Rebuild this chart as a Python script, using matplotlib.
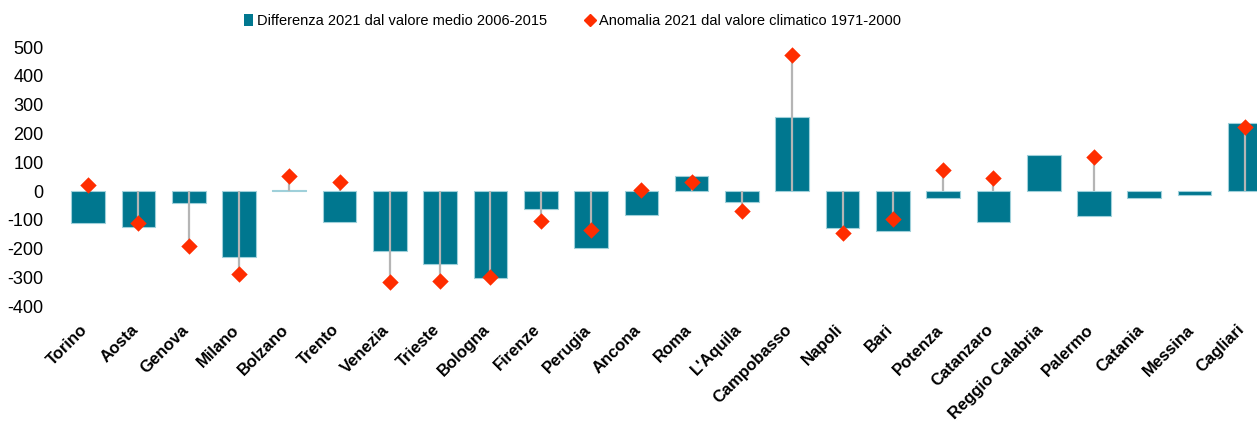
import numpy as np
import matplotlib
matplotlib.use("Agg")
import matplotlib.pyplot as plt
import matplotlib.transforms as mtransforms
from matplotlib.lines import Line2D
from matplotlib.patches import Patch

cities = ["Torino", "Aosta", "Genova", "Milano", "Bolzano", "Trento", "Venezia",
          "Trieste", "Bologna", "Firenze", "Perugia", "Ancona", "Roma", "L'Aquila",
          "Campobasso", "Napoli", "Bari", "Potenza", "Catanzaro", "Reggio Calabria",
          "Palermo", "Catania", "Messina", "Cagliari"]

# differenza 2021 dal valore medio 2006-2015
diff_2006_2015 = [-110, -125, -43, -230, 2, -108, -209,
                  -254, -303, -61, -197, -83, 53, -39,
                  256, -130, -139, -23, -109, 125,
                  -86, -23, -14, 236]

# anomalia 2021 dal valore climatico 1971-2000 (None = nessun dato)
anom_1971_2000 = [21, -110, -191, -289, 52, 31, -315,
                  -313, -299, -105, -135, 2, 32, -69,
                  471, -147, -97, 73, 46, None,
                  118, None, None, 222]

yticks = [-400, -300, -200, -100, 0, 100, 200, 300, 400, 500]

bar_color = "#00778f"
dot_color = "#ff2d00"

plt.rcParams['font.family'] = ['Liberation Sans Narrow', 'Liberation Sans', 'DejaVu Sans']

fig = plt.figure(figsize=(12.57, 4.26), dpi=100)
ax = fig.add_axes([63 / 1257, 0.2474, 1207 / 1257, 0.676])

x = np.arange(len(cities))
ax.bar(x, diff_2006_2015, width=0.67, color=bar_color,
       edgecolor="#9fd0da", linewidth=0.8, zorder=2)

anom = np.array([np.nan if v is None else v for v in anom_1971_2000], dtype=float)
ok = ~np.isnan(anom)
ax.vlines(x[ok], 0, anom[ok], color="#b5b5b5", linewidth=1.6, zorder=3)
ax.scatter(x[ok], anom[ok], marker="D", s=70, color=dot_color, zorder=4, linewidths=0)

ax.set_xlim(-0.5, len(cities) - 0.5)
ax.set_ylim(-450, 550)
ax.set_yticks(yticks)
ax.set_yticklabels([str(v) for v in yticks], fontsize=13)
ax.set_xticks(x)
ax.set_xticklabels(cities, rotation=45, ha="right", va="top",
                   rotation_mode="anchor", fontsize=12, fontweight="bold")
ax.tick_params(axis="y", length=0, pad=14)
ax.tick_params(axis="x", length=0, pad=1)
shift = mtransforms.ScaledTranslation(-8 / 100, 0, fig.dpi_scale_trans)
for lab in ax.get_xticklabels():
    lab.set_transform(lab.get_transform() + shift)
for s in ax.spines.values():
    s.set_visible(False)

# legenda su due voci separate, come nell'originale
leg1 = fig.legend([Patch(facecolor=bar_color, edgecolor="none")],
                  ["Differenza 2021 dal valore medio 2006-2015"],
                  loc="center left", bbox_to_anchor=(238 / 1257, 0.95),
                  frameon=False, fontsize=10.5, handlelength=0.6,
                  handleheight=0.9, handletextpad=0.3, borderaxespad=0)
leg2 = fig.legend([Line2D([], [], marker="D", color=dot_color, linestyle="none", markersize=6)],
                  ["Anomalia 2021 dal valore climatico 1971-2000"],
                  loc="center left", bbox_to_anchor=(580 / 1257, 0.95),
                  frameon=False, fontsize=10.5, handlelength=0.6,
                  handletextpad=0.3, borderaxespad=0)

fig.savefig("out.png", dpi=100)
